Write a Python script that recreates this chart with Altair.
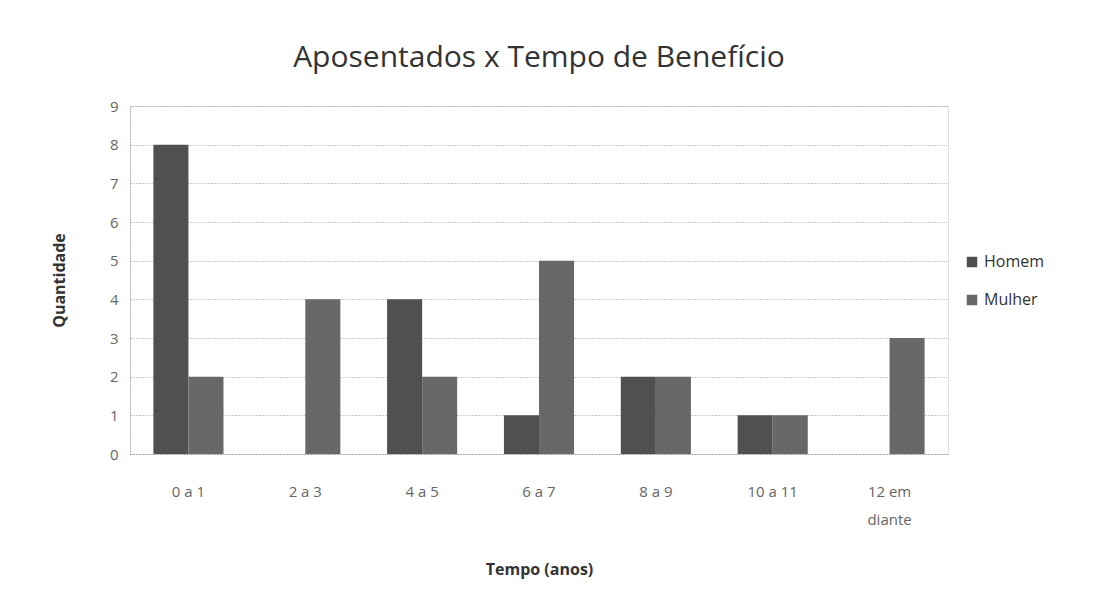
import altair as alt
import pandas as pd

categories = ["0 a 1", "2 a 3", "4 a 5", "6 a 7", "8 a 9", "10 a 11", "12 em diante"]
homem = [8, 0, 4, 1, 2, 1, 0]
mulher = [2, 4, 2, 5, 2, 1, 3]
series = ["Homem", "Mulher"]

rows = []
for c, h, m in zip(categories, homem, mulher):
    rows.append({"Tempo": c, "Sexo": "Homem", "Quantidade": h})
    rows.append({"Tempo": c, "Sexo": "Mulher", "Quantidade": m})
df = pd.DataFrame(rows)

FONT = "Open Sans"

chart = alt.Chart(df).mark_bar().encode(
    x=alt.X("Tempo:N", sort=categories, scale=alt.Scale(paddingInner=0.4, paddingOuter=0.2),
            axis=alt.Axis(title="Tempo (anos)", labelAngle=0, labelFontSize=15, labelColor="#666",
                          labelFont=FONT, titleFont=FONT, titleFontSize=16, titleFontWeight="bold",
                          titleColor="#333", titlePadding=34, labelPadding=30, ticks=False,
                          domainColor="#999", domainDash=[1, 2],
                          labelExpr="datum.label == '12 em diante' ? ['12 em', 'diante'] : datum.label",
                          labelLineHeight=28)),
    xOffset=alt.XOffset("Sexo:N", sort=series),
    y=alt.Y("Quantidade:Q", scale=alt.Scale(domain=[0, 9]),
            axis=alt.Axis(title="Quantidade", values=list(range(10)), labelFontSize=15, labelColor="#666",
                          labelFont=FONT, titleFont=FONT, titleFontSize=16, titleFontWeight="bold",
                          titleColor="#333", titlePadding=42, labelPadding=12, ticks=False,
                          gridColor="#999", gridDash=[1, 2], domainColor="#999", domainDash=[1, 2])),
    color=alt.Color("Sexo:N", sort=series,
                    scale=alt.Scale(domain=series, range=["#505050", "#686868"]),
                    legend=alt.Legend(title=None, orient="none", legendX=834, legendY=148,
                                      symbolType="square", symbolSize=110, labelFontSize=16,
                                      labelFont=FONT, labelColor="#333", rowPadding=22)),
).properties(
    width=818, height=348,
    title=alt.TitleParams("Aposentados x Tempo de Benefício", font=FONT, fontSize=30,
                          fontWeight="normal", color="#333", anchor="middle", offset=26),
    padding={"left": 122, "top": 98, "right": 130, "bottom": 140},
    autosize=alt.AutoSizeParams(type="none"),
).configure_view(stroke=None).configure(background="white")

chart.save("out.html", embed_options={"renderer": "svg", "actions": False})
